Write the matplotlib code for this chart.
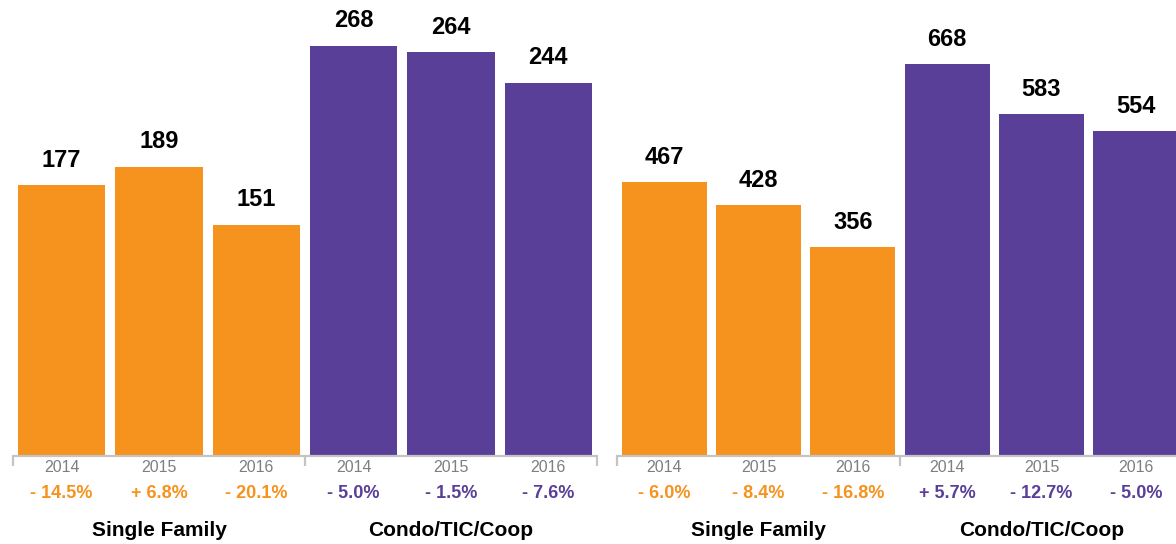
import matplotlib.pyplot as plt

plt.rcParams['font.family'] = ['Liberation Sans', 'DejaVu Sans']

years = ['2014', '2015', '2016']
groups = ['Single Family', 'Condo/TIC/Coop']

left_sf = [177, 189, 151]
left_condo = [268, 264, 244]
left_sf_chg = ['- 14.5%', '+ 6.8%', '- 20.1%']
left_condo_chg = ['- 5.0%', '- 1.5%', '- 7.6%']

right_sf = [467, 428, 356]
right_condo = [668, 583, 554]
right_sf_chg = ['- 6.0%', '- 8.4%', '- 16.8%']
right_condo_chg = ['+ 5.7%', '- 12.7%', '- 5.0%']

orange = '#F6921E'
purple = '#5A3F99'
grey = '#C4C4C4'

W, H = 1176, 544
fig = plt.figure(figsize=(W / 100, H / 100), dpi=100)
fig.patch.set_facecolor('white')

base_px = 456
px = 0.72  # points per pixel at dpi 100


def panel(left_px, right_px, ymax, sf, condo, sf_chg, condo_chg):
    ax = fig.add_axes([left_px / W, (H - base_px) / H, (right_px - left_px) / W, base_px / H])
    vals = sf + condo
    chg = sf_chg + condo_chg
    cols = [orange] * 3 + [purple] * 3
    xs = [i + 0.5 for i in range(6)]
    ax.bar(xs, vals, width=0.9, color=cols, zorder=2)
    ax.set_xlim(0, 6)
    ax.set_ylim(0, ymax)
    for s in ['top', 'left', 'right']:
        ax.spines[s].set_visible(False)
    ax.spines['bottom'].set_color(grey)
    ax.spines['bottom'].set_linewidth(1.6)
    ax.set_yticks([])
    ax.set_xticks([0, 3, 6])
    ax.set_xticklabels([])
    ax.tick_params(axis='x', direction='out', length=7, width=1.6, color=grey)
    ax.patch.set_visible(False)
    for i, x in enumerate(xs):
        ax.annotate(str(vals[i]), (x, vals[i]), xytext=(0, 25 * px), textcoords='offset points',
                    ha='center', va='center', fontsize=17, fontweight='bold', color='black',
                    annotation_clip=False)
        ax.annotate(years[i % 3], (x, 0), xytext=(0, -12 * px), textcoords='offset points',
                    ha='center', va='center', fontsize=11.5, color='#7F7F7F', annotation_clip=False)
        ax.annotate(chg[i], (x, 0), xytext=(0, -38 * px), textcoords='offset points',
                    ha='center', va='center', fontsize=13, fontweight='bold', color=cols[i],
                    annotation_clip=False)
    for g, gx in zip(groups, [1.5, 4.5]):
        ax.annotate(g, (gx, 0), xytext=(0, -74 * px), textcoords='offset points',
                    ha='center', va='center', fontsize=15, fontweight='bold', color='black',
                    annotation_clip=False)
    return ax


panel(13, 597, 298, left_sf, left_condo, left_sf_chg, left_condo_chg)
panel(617, 1183, 778, right_sf, right_condo, right_sf_chg, right_condo_chg)

fig.savefig('out.png', dpi=100, facecolor='white')
